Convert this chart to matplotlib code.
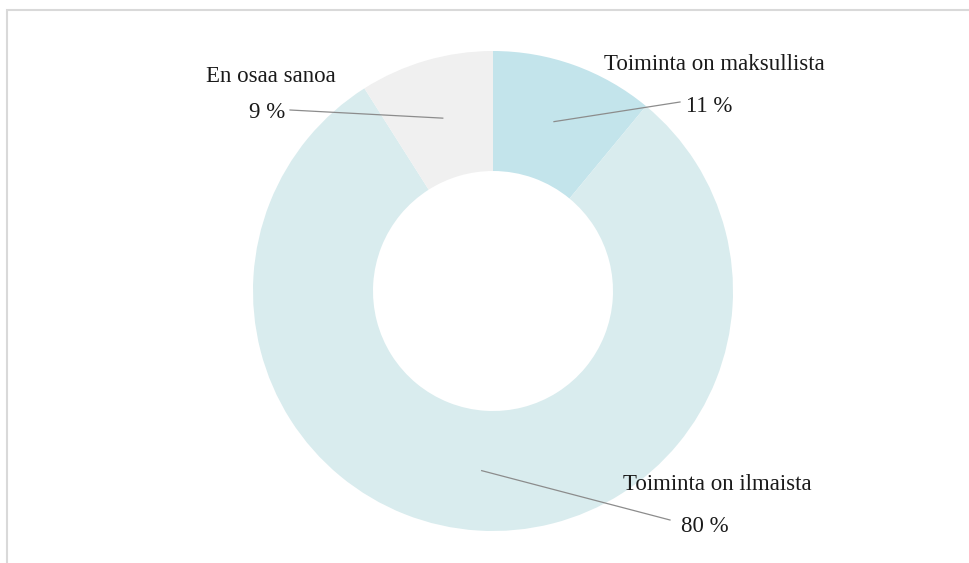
import numpy as np
import matplotlib
matplotlib.use("Agg")
import matplotlib.pyplot as plt
from matplotlib.patches import Rectangle

# data (clockwise from 12 o'clock)
names = ["Toiminta on maksullista", "Toiminta on ilmaista", "En osaa sanoa"]
shares = [11, 80, 9]
colors = ["#c3e4eb", "#d9ecee", "#f0f0f0"]

W, H = 969, 563
CX, CY, R = 493, 291, 240  # pie centre / radius in pixels


def px(x, y):
    """pixel coords (top-left origin) -> data coords of the pie axes"""
    return (x - CX) / R, (CY - y) / R


# where the leader lines end and where the two text lines sit (pixels)
line_end = [(680, 102), (670, 520), (290, 110)]
name_pos = [(714, 64), (717, 485), (271, 77)]
value_pos = [(686, 106, "left"), (681, 526, "left"), (285, 112, "right")]

plt.rcParams["font.family"] = ["Liberation Serif", "DejaVu Serif"]

fig = plt.figure(figsize=(W / 100, H / 100), dpi=100)
ax = fig.add_axes([(CX - R) / W, (H - CY - R) / H, 2 * R / W, 2 * R / H])

wedges, _ = ax.pie(shares, colors=colors, startangle=90, counterclock=False,
                   radius=1.0, wedgeprops=dict(width=0.5, linewidth=0))
ax.set_xlim(-1, 1)
ax.set_ylim(-1, 1)
ax.set_aspect("equal")
ax.set_axis_off()

for i, w in enumerate(wedges):
    mid = np.deg2rad((w.theta1 + w.theta2) / 2)
    x0, y0 = 0.75 * np.cos(mid), 0.75 * np.sin(mid)
    x1, y1 = px(*line_end[i])
    ax.plot([x0, x1], [y0, y1], color="#8c8c8c", lw=0.9, clip_on=False)
    nx, ny = px(*name_pos[i])
    ax.text(nx, ny, names[i], ha="center", va="center", fontsize=16.5,
            color="#1a1a1a", clip_on=False)
    vx, vy = px(value_pos[i][0], value_pos[i][1])
    ax.text(vx, vy, f"{shares[i]} %", ha=value_pos[i][2], va="center",
            fontsize=16.5, color="#1a1a1a", clip_on=False)

# thin frame, only top and left edges visible in the crop
fig.patches.append(Rectangle((7 / W, -0.05), 1.2, (H - 10) / H + 0.05,
                             transform=fig.transFigure, fill=False,
                             edgecolor="#d9d9d9", lw=1.5))

fig.savefig("out.png", dpi=100)
